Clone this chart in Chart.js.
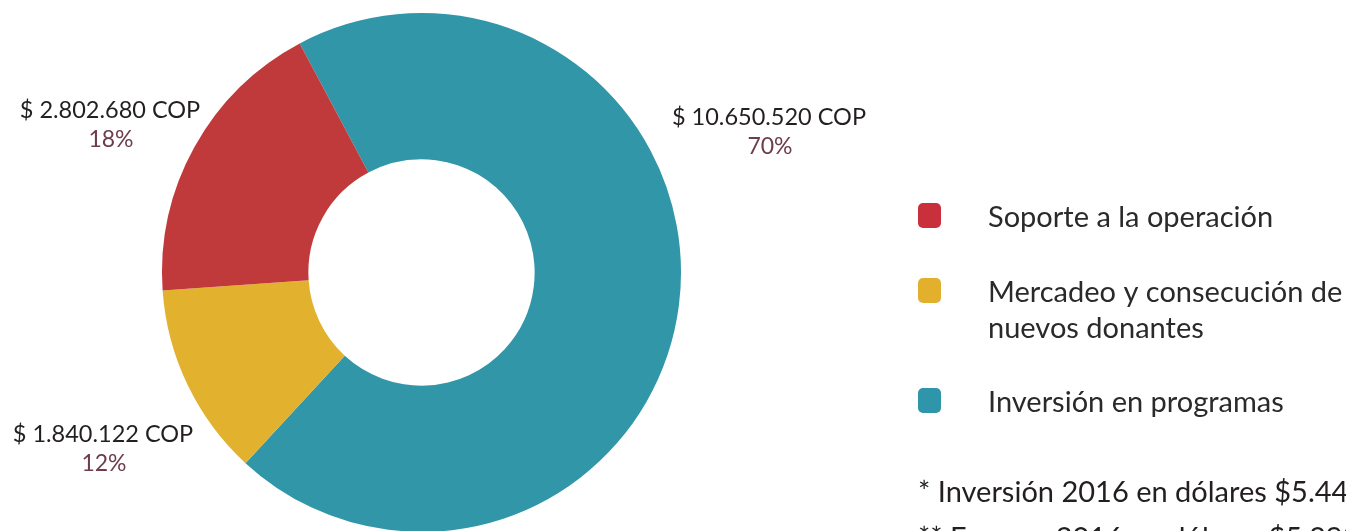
<!DOCTYPE html>
<html>
<head>
<meta charset="utf-8">
<script src="https://cdn.jsdelivr.net/npm/chart.js@4.4.1/dist/chart.umd.min.js"></script>
<style>
html,body{margin:0;padding:0;background:#fff;overflow:hidden;width:1346px;height:531px;}
#wrap{position:absolute;left:0;top:0;width:1346px;height:532px;}
</style>
</head>
<body>
<div id="wrap"><canvas id="c" width="1346" height="532"></canvas></div>
<script>
// Data (drawing order is clockwise: teal, yellow, red; legend reversed)
const categories = ['Inversión en programas', 'Mercadeo y consecución de\nnuevos donantes', 'Soporte a la operación'];
const values = [10650520, 1840122, 2802680];
const valueLabels = ['$ 10.650.520 COP', '$ 1.840.122 COP', '$ 2.802.680 COP'];
const percentLabels = ['70%', '12%', '18%'];
const footnotes = ['* Inversión 2016 en dólares $5.443', '** Egresos 2016 en dólares $5.398'];

const sliceColors = ['#3196A8', '#E2B22F', '#C03A3B'];
const legendColors = ['#2F95AA', '#E3B02E', '#C8303B'];
const labelAnchors = [[769, 125], [103, 442], [110, 118]];
const FONT = 'Lato, "Open Sans", sans-serif';

const annotate = {
  id: 'annotate',
  afterDraw(chart) {
    const ctx = chart.ctx;
    ctx.save();
    ctx.textAlign = 'center';
    ctx.textBaseline = 'alphabetic';
    for (let i = 0; i < valueLabels.length; i++) {
      const [x, y] = labelAnchors[i];
      ctx.font = '23.5px ' + FONT;
      ctx.fillStyle = '#231F20';
      ctx.fillText(valueLabels[i], x, y);
      ctx.font = '23px ' + FONT;
      ctx.fillStyle = '#6E3C4E';
      ctx.fillText(percentLabels[i], x + 1, y + 29);
    }
    // legend (reverse order)
    const rows = [[227], [302, 338], [412]];
    ctx.textAlign = 'left';
    for (let k = 0; k < 3; k++) {
      const i = 2 - k;
      const lines = categories[i].split('\n');
      const base = rows[k][0];
      ctx.fillStyle = legendColors[i];
      ctx.beginPath();
      if (ctx.roundRect) ctx.roundRect(918, base - 24, 23, 25, 5); else ctx.rect(918, base - 24, 23, 25);
      ctx.fill();
      ctx.fillStyle = '#2A2A2A';
      ctx.font = '29px ' + FONT;
      lines.forEach((ln, j) => ctx.fillText(ln, 988, rows[k][j]));
    }
    ctx.font = '29px ' + FONT;
    ctx.fillStyle = '#231F20';
    ctx.fillText(footnotes[0], 918, 502);
    ctx.fillText(footnotes[1], 918, 548);
    ctx.restore();
  }
};

new Chart(document.getElementById('c'), {
  type: 'doughnut',
  data: {
    labels: categories,
    datasets: [{
      data: values,
      backgroundColor: sliceColors,
      borderWidth: 0
    }]
  },
  options: {
    responsive: false,
    animation: false,
    rotation: -28,
    cutout: '43.6%',
    layout: { padding: { left: 162, right: 665, top: 13, bottom: 0 } },
    plugins: { legend: { display: false }, tooltip: { enabled: false } }
  },
  plugins: [annotate]
});
</script>
</body>
</html>
